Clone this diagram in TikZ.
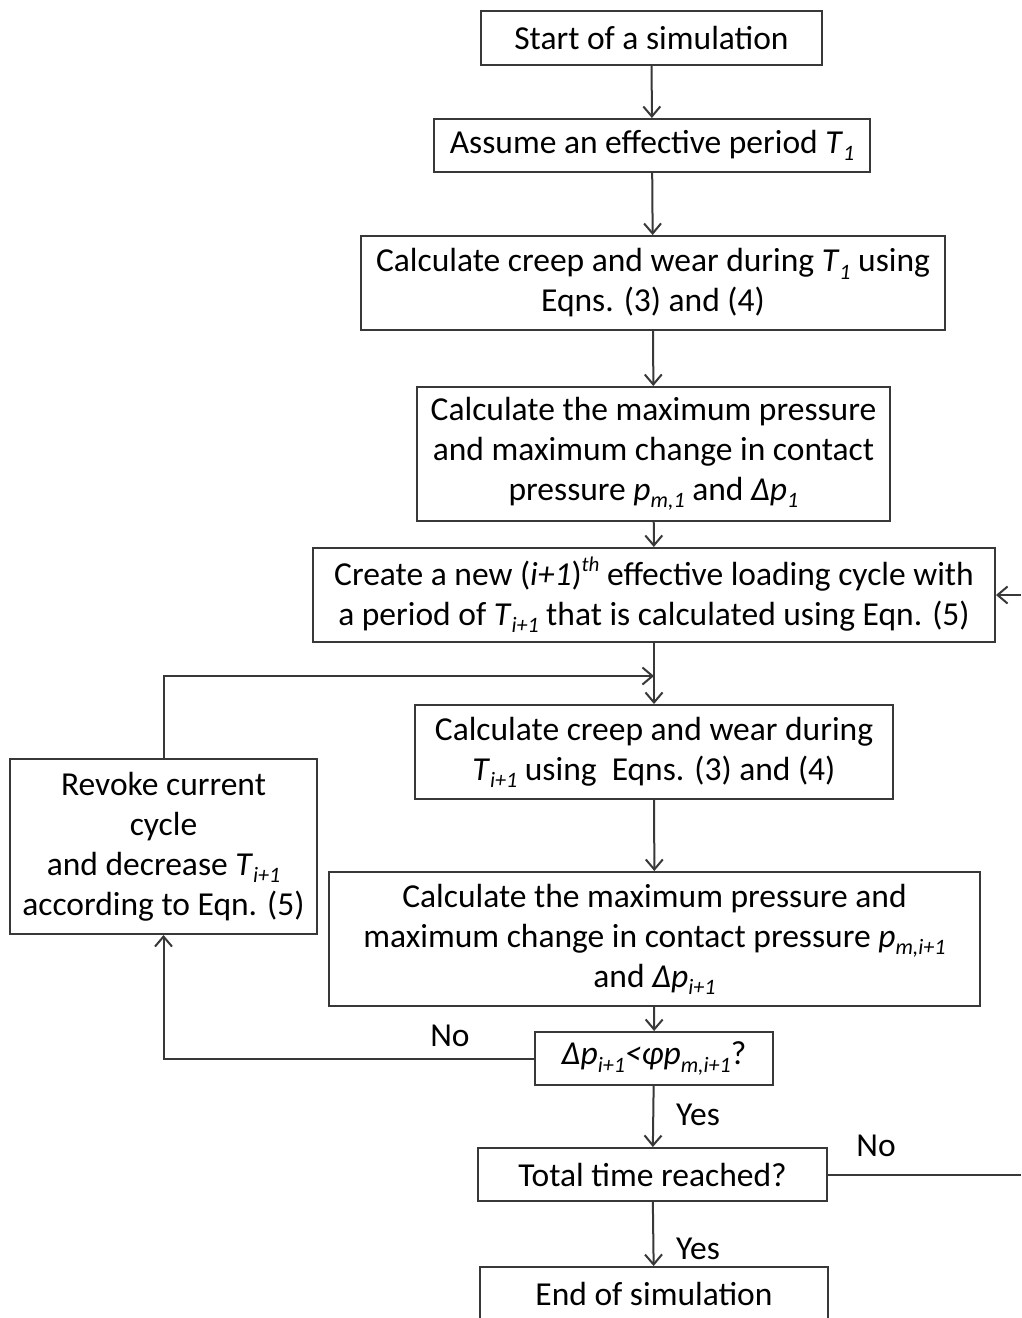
\documentclass[tikz,border=0pt]{standalone}
\usepackage{fontspec}
\setmainfont{Carlito}
\usetikzlibrary{arrows.meta}
\newcommand\sbi[1]{\raisebox{-0.45ex}{\fontsize{22}{22}\selectfont\itshape #1}}
\newcommand\spi[1]{\raisebox{0.85ex}{\fontsize{21}{21}\selectfont\itshape #1}}
\begin{document}
\begin{tikzpicture}[x=1pt,y=-1pt,
  box/.style={draw=black!78,line width=2pt,align=center,inner sep=0pt,
    font=\fontsize{33.5}{40}\selectfont,text=black},
  arr/.style={draw=black!78,line width=2pt,-{Straight Barb[length=10pt,width=17pt,line width=2pt]}},
  ln/.style={draw=black!78,line width=2pt},
  lbl/.style={font=\fontsize{33.5}{40}\selectfont,text=black,inner sep=0pt}]
\clip (0,0) rectangle (1021,1318);
\fill[white] (0,0) rectangle (1021,1318);
\node[box,minimum width=341,minimum height=54] (start) at (651.5,38) {Start of a simulation};
\node[box,minimum width=436,minimum height=53] (assume) at (652,145.5) {Assume an effective period \textit{T}\sbi{1}};
\node[box,minimum width=584,minimum height=94] (calc1) at (653,283) {Calculate creep and wear during \textit{T}\sbi{1} using\\Eqns. (3) and (4)};
\node[box,minimum width=473,minimum height=134] (calcp1) at (653.5,454) {Calculate the maximum pressure\\and maximum change in contact\\pressure \textit{p}\sbi{m,1} and \textit{Δp}\sbi{1}};
\node[box,minimum width=682,minimum height=94] (create) at (654,595) {Create a new (\textit{i+1})\spi{th} effective loading cycle with\\a period of \textit{T}\sbi{i+1} that is calculated using Eqn. (5)};
\node[box,minimum width=478,minimum height=94] (calc2) at (654,752) {Calculate creep and wear during\\\textit{T}\sbi{i+1} using\ \ Eqns. (3) and (4)};
\node[box,minimum width=651,minimum height=134] (calcp2) at (654.5,939) {Calculate the maximum pressure and\\maximum change in contact pressure \textit{p}\sbi{m,i+1}\\and \textit{Δp}\sbi{i+1}};
\node[box,minimum width=238,minimum height=53] (dec) at (654,1058.5) {\textit{Δp}\sbi{i+1}\textit{<φp}\sbi{m,i+1}?};
\node[box,minimum width=349,minimum height=53] (total) at (652.5,1174.5) {Total time reached?};
\node[box,minimum width=348,minimum height=54] (end) at (654,1294) {End of simulation};
\node[box,minimum width=307,minimum height=175] (revoke) at (163.5,846.5) {Revoke current\\cycle\\and decrease \textit{T}\sbi{i+1}\\according to Eqn. (5)};
\coordinate (jn) at (654,676);
\coordinate (re1) at (1021,595);
\coordinate (re2) at (1021,1174.5);
\draw[arr] (start) -- (assume);
\draw[arr] (assume) -- (calc1);
\draw[arr] (calc1) -- (calcp1);
\draw[arr] (calcp1) -- (create);
\draw[arr] (create) -- (calc2);
\draw[arr] (revoke.north) |- (jn);
\draw[arr] (calc2) -- (calcp2);
\draw[arr] (calcp2) -- (dec);
\draw[arr] (dec.west) -| (revoke.south);
\draw[arr] (dec) -- (total);
\draw[arr] (total) -- (end);
\draw[ln] (total.east) -- (re2);
\draw[arr] (re1) -- (create.east);
\node[lbl] (no1) at (450,1036) {No};
\node[lbl] (yes1) at (698,1115) {Yes};
\node[lbl] (no2) at (876,1146) {No};
\node[lbl] (yes2) at (698,1249) {Yes};
\end{tikzpicture}
\end{document}
